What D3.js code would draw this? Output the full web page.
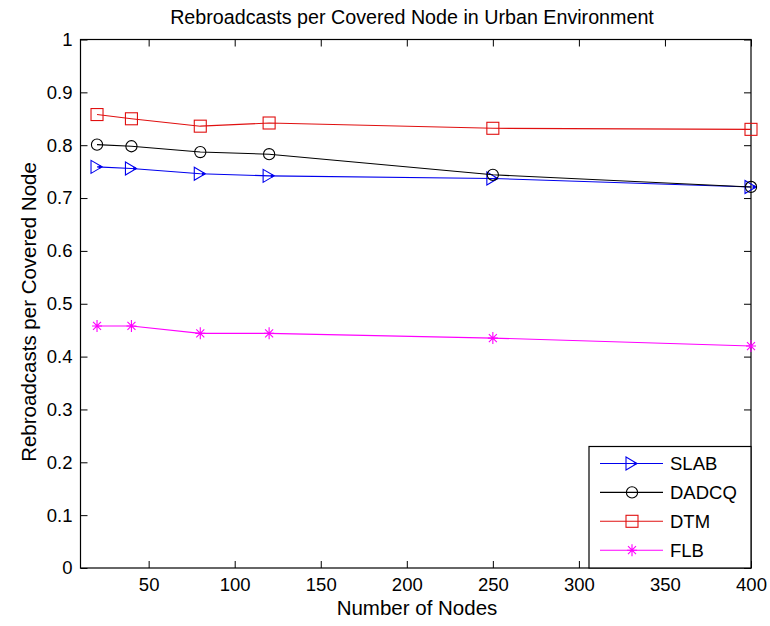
<!DOCTYPE html>
<html>
<head>
<meta charset="utf-8">
<script src="https://cdn.jsdelivr.net/npm/d3@7"></script>
<style>
  body { margin: 0; background: #fff; }
  svg text { font-family: "Liberation Sans", Arial, sans-serif; fill: #000; }
</style>
</head>
<body>
<svg id="chart"></svg>
<script>
// data
let nodes = [20, 40, 80, 120, 250, 400];
let slab  = [0.759, 0.756, 0.746, 0.742, 0.737, 0.721];
let dadcq = [0.801, 0.798, 0.787, 0.783, 0.744, 0.721];
let dtm   = [0.858, 0.850, 0.836, 0.842, 0.832, 0.830];
let flb   = [0.458, 0.458, 0.444, 0.444, 0.435, 0.420];

let seriesNames = ["SLAB", "DADCQ", "DTM", "FLB"];
let xTicks = [50, 100, 150, 200, 250, 300, 350, 400];
let yTicks = [0, 0.1, 0.2, 0.3, 0.4, 0.5, 0.6, 0.7, 0.8, 0.9, 1];

let width = 770, height = 626;
let margin = {top: 39.5, right: 19, bottom: 58, left: 80.5};

let svg = d3.select("#chart")
  .attr("width", width)
  .attr("height", height);

let x = d3.scaleLinear()
  .domain([10.4, 400])
  .range([margin.left, width - margin.right]);

let y = d3.scaleLinear()
  .domain([0, 1])
  .range([height - margin.bottom, margin.top]);

let series = [
  {name: seriesNames[0], values: slab,  color: "#0000ee", marker: "tri"},
  {name: seriesNames[1], values: dadcq, color: "#000000", marker: "circle"},
  {name: seriesNames[2], values: dtm,   color: "#e01010", marker: "square"},
  {name: seriesNames[3], values: flb,   color: "#ff00ff", marker: "star"}
];

// axes box with inward ticks on all four sides
let tickLen = 7;
svg.append("g")
  .attr("transform", "translate(0," + y(0) + ")")
  .call(d3.axisBottom(x).tickValues(xTicks).tickSizeInner(-tickLen).tickSizeOuter(0).tickPadding(10).tickFormat(d3.format("d")))
  .call(g => g.select(".domain").remove())
  .call(g => g.selectAll("text").style("font-size", "18.5px"));

svg.append("g")
  .attr("transform", "translate(0," + y(1) + ")")
  .call(d3.axisTop(x).tickValues(xTicks).tickSizeInner(-tickLen).tickSizeOuter(0).tickFormat(""))
  .call(g => g.select(".domain").remove());

svg.append("g")
  .attr("transform", "translate(" + x.range()[0] + ",0)")
  .call(d3.axisLeft(y).tickValues(yTicks).tickSizeInner(-tickLen).tickSizeOuter(0).tickPadding(8).tickFormat(d3.format("~g")))
  .call(g => g.select(".domain").remove())
  .call(g => g.selectAll("text").style("font-size", "18.5px"));

svg.append("g")
  .attr("transform", "translate(" + x.range()[1] + ",0)")
  .call(d3.axisRight(y).tickValues(yTicks).tickSizeInner(-tickLen).tickSizeOuter(0).tickFormat(""))
  .call(g => g.select(".domain").remove());

svg.append("rect")
  .attr("x", x.range()[0])
  .attr("y", y(1))
  .attr("width", x.range()[1] - x.range()[0])
  .attr("height", y(0) - y(1))
  .attr("fill", "none")
  .attr("stroke", "#000")
  .attr("stroke-width", 1.2);

// marker drawing
function drawMarker(g, type, color) {
  if (type === "tri") {
    g.append("path").attr("d", "M-6,-6.5L-6,6.5L5,0Z")
      .attr("fill", "none").attr("stroke", color).attr("stroke-width", 1.1);
    g.append("circle").attr("cx", 3).attr("r", 1.6).attr("fill", color);
  } else if (type === "circle") {
    g.append("circle").attr("r", 5.6)
      .attr("fill", "none").attr("stroke", color).attr("stroke-width", 1.1);
  } else if (type === "square") {
    g.append("rect").attr("x", -6).attr("y", -6).attr("width", 12).attr("height", 12)
      .attr("fill", "none").attr("stroke", color).attr("stroke-width", 1.1);
  } else if (type === "star") {
    g.append("path").attr("d", "M0,-6L0,6M-5,0L5,0M-4,-4L4,4M-4,4L4,-4")
      .attr("fill", "none").attr("stroke", color).attr("stroke-width", 1.1);
  }
}

let line = d3.line()
  .x(d => x(d[0]))
  .y(d => y(d[1]));

series.forEach(function(s) {
  let pts = nodes.map((n, i) => [n, s.values[i]]);
  svg.append("path")
    .datum(pts)
    .attr("d", line)
    .attr("fill", "none")
    .attr("stroke", s.color)
    .attr("stroke-width", 1.1);

  pts.forEach(function(p) {
    let g = svg.append("g").attr("transform", "translate(" + x(p[0]) + "," + y(p[1]) + ")");
    drawMarker(g, s.marker, s.color);
  });
});

// title and axis labels
svg.append("text")
  .attr("x", 412)
  .attr("y", 23.5)
  .attr("text-anchor", "middle")
  .style("font-size", "19.7px")
  .text("Rebroadcasts per Covered Node in Urban Environment");

svg.append("text")
  .attr("x", 417)
  .attr("y", 615)
  .attr("text-anchor", "middle")
  .style("font-size", "20.5px")
  .text("Number of Nodes");

svg.append("text")
  .attr("transform", "translate(36," + 312 + ") rotate(-90)")
  .attr("text-anchor", "middle")
  .style("font-size", "20.5px")
  .text("Rebroadcasts per Covered Node");

// legend
let legendX = 589, legendY = 446.5;
let legend = svg.append("g");
legend.append("rect")
  .attr("x", legendX)
  .attr("y", legendY)
  .attr("width", x.range()[1] - legendX)
  .attr("height", y(0) - legendY)
  .attr("fill", "#fff")
  .attr("stroke", "#000")
  .attr("stroke-width", 1.2);

series.forEach(function(s, i) {
  let ry = legendY + 17 + i * 28.9;
  legend.append("line")
    .attr("x1", 600).attr("x2", 663)
    .attr("y1", ry).attr("y2", ry)
    .attr("stroke", s.color)
    .attr("stroke-width", 1.1);
  let g = legend.append("g").attr("transform", "translate(632," + ry + ")");
  drawMarker(g, s.marker, s.color);
  legend.append("text")
    .attr("x", 670)
    .attr("y", ry + 6.6)
    .style("font-size", "18.5px")
    .text(s.name);
});
</script>
</body>
</html>
